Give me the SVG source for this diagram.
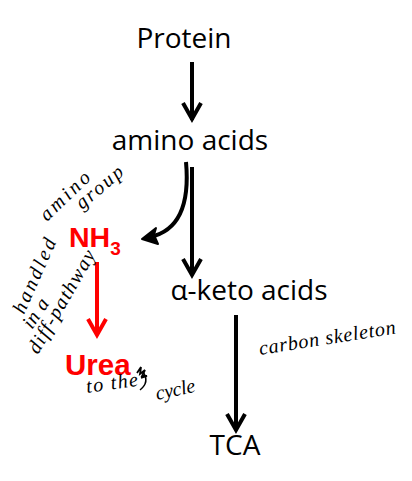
<svg xmlns="http://www.w3.org/2000/svg" width="412" height="481" viewBox="0 0 412 481">
<style>
.lbl{font-family:"Open Sans","Liberation Sans",sans-serif;font-size:28px;fill:#000}
.red{font-family:"Liberation Sans",Arial,sans-serif;font-weight:bold;fill:#ff0000}
.hand{font-family:"Liberation Serif",serif;font-style:italic;font-size:20px;fill:#000}
.arr{stroke:#000;stroke-width:4;fill:none}
.head{stroke:#000;stroke-width:4;fill:none;stroke-linejoin:miter}
</style>
<rect width="412" height="481" fill="#fff"/>
<g id="connectors">
  <line class="arr" x1="192" y1="62" x2="192" y2="120"/>
  <polyline class="head" points="183,103 192,119 201,103"/>
  <line class="arr" x1="192" y1="167" x2="192" y2="275"/>
  <polyline class="head" points="183,259 192,275 201,259"/>
  <path class="arr" d="M186,162 Q192,228 150,237"/>
  <path d="M142,239 L156,228 L154,235 L158,244 Z" fill="#000" stroke="#000" stroke-width="2" stroke-linejoin="round"/>
  <line x1="97" y1="262" x2="97" y2="335" stroke="#ff0000" stroke-width="4"/>
  <polyline points="88,319 97,335 106,319" stroke="#ff0000" stroke-width="4" fill="none"/>
  <line class="arr" x1="236" y1="315" x2="236" y2="430"/>
  <polyline class="head" points="227,414 236,430 245,414"/>
</g>
<g id="protein"><text class="lbl" x="184" y="48" text-anchor="middle">Protein</text></g>
<g id="amino-acids"><text class="lbl" x="190" y="150" text-anchor="middle">amino acids</text></g>
<g id="keto-acids"><text class="lbl" x="249" y="300" text-anchor="middle">α-keto acids</text></g>
<g id="tca"><text class="lbl" x="235" y="455" text-anchor="middle">TCA</text></g>
<g id="nh3"><text class="red" x="69" y="247" font-size="28.5">NH<tspan font-size="19" dy="8">3</tspan></text></g>
<g id="urea"><text class="red" x="65" y="375" font-size="29.5">Urea</text></g>
<g id="notes">
  <text class="hand" transform="translate(47,222) rotate(-44)" textLength="62" lengthAdjust="spacing">amino</text>
  <text class="hand" transform="translate(82,210) rotate(-40)" textLength="56" lengthAdjust="spacing">group</text>
  <text class="hand" transform="translate(24,315) rotate(-66)" textLength="80" lengthAdjust="spacing">handled</text>
  <text class="hand" transform="translate(32,330) rotate(-56)" textLength="32" lengthAdjust="spacing">in a</text>
  <text class="hand" transform="translate(38,355) rotate(-60)" textLength="116" lengthAdjust="spacing">diff-pathway</text>
  <text class="hand" transform="translate(87,393) rotate(-8)" textLength="52" lengthAdjust="spacing">to the</text>
  <path d="M140,390 Q150,382 143,372" stroke="#000" stroke-width="1.5" fill="none"/>
  <path d="M137,373 l4,-6 l-1,7 l5,-4 l-3,6 l5,0 l-6,2" stroke="#000" stroke-width="1.8" fill="none"/>
  <text class="hand" transform="translate(157,400) rotate(-12)" textLength="40" lengthAdjust="spacing">cycle</text>
  <text class="hand" transform="translate(260,355) rotate(-9)" font-size="21" textLength="138" lengthAdjust="spacing">carbon skeleton</text>
</g>
</svg>
